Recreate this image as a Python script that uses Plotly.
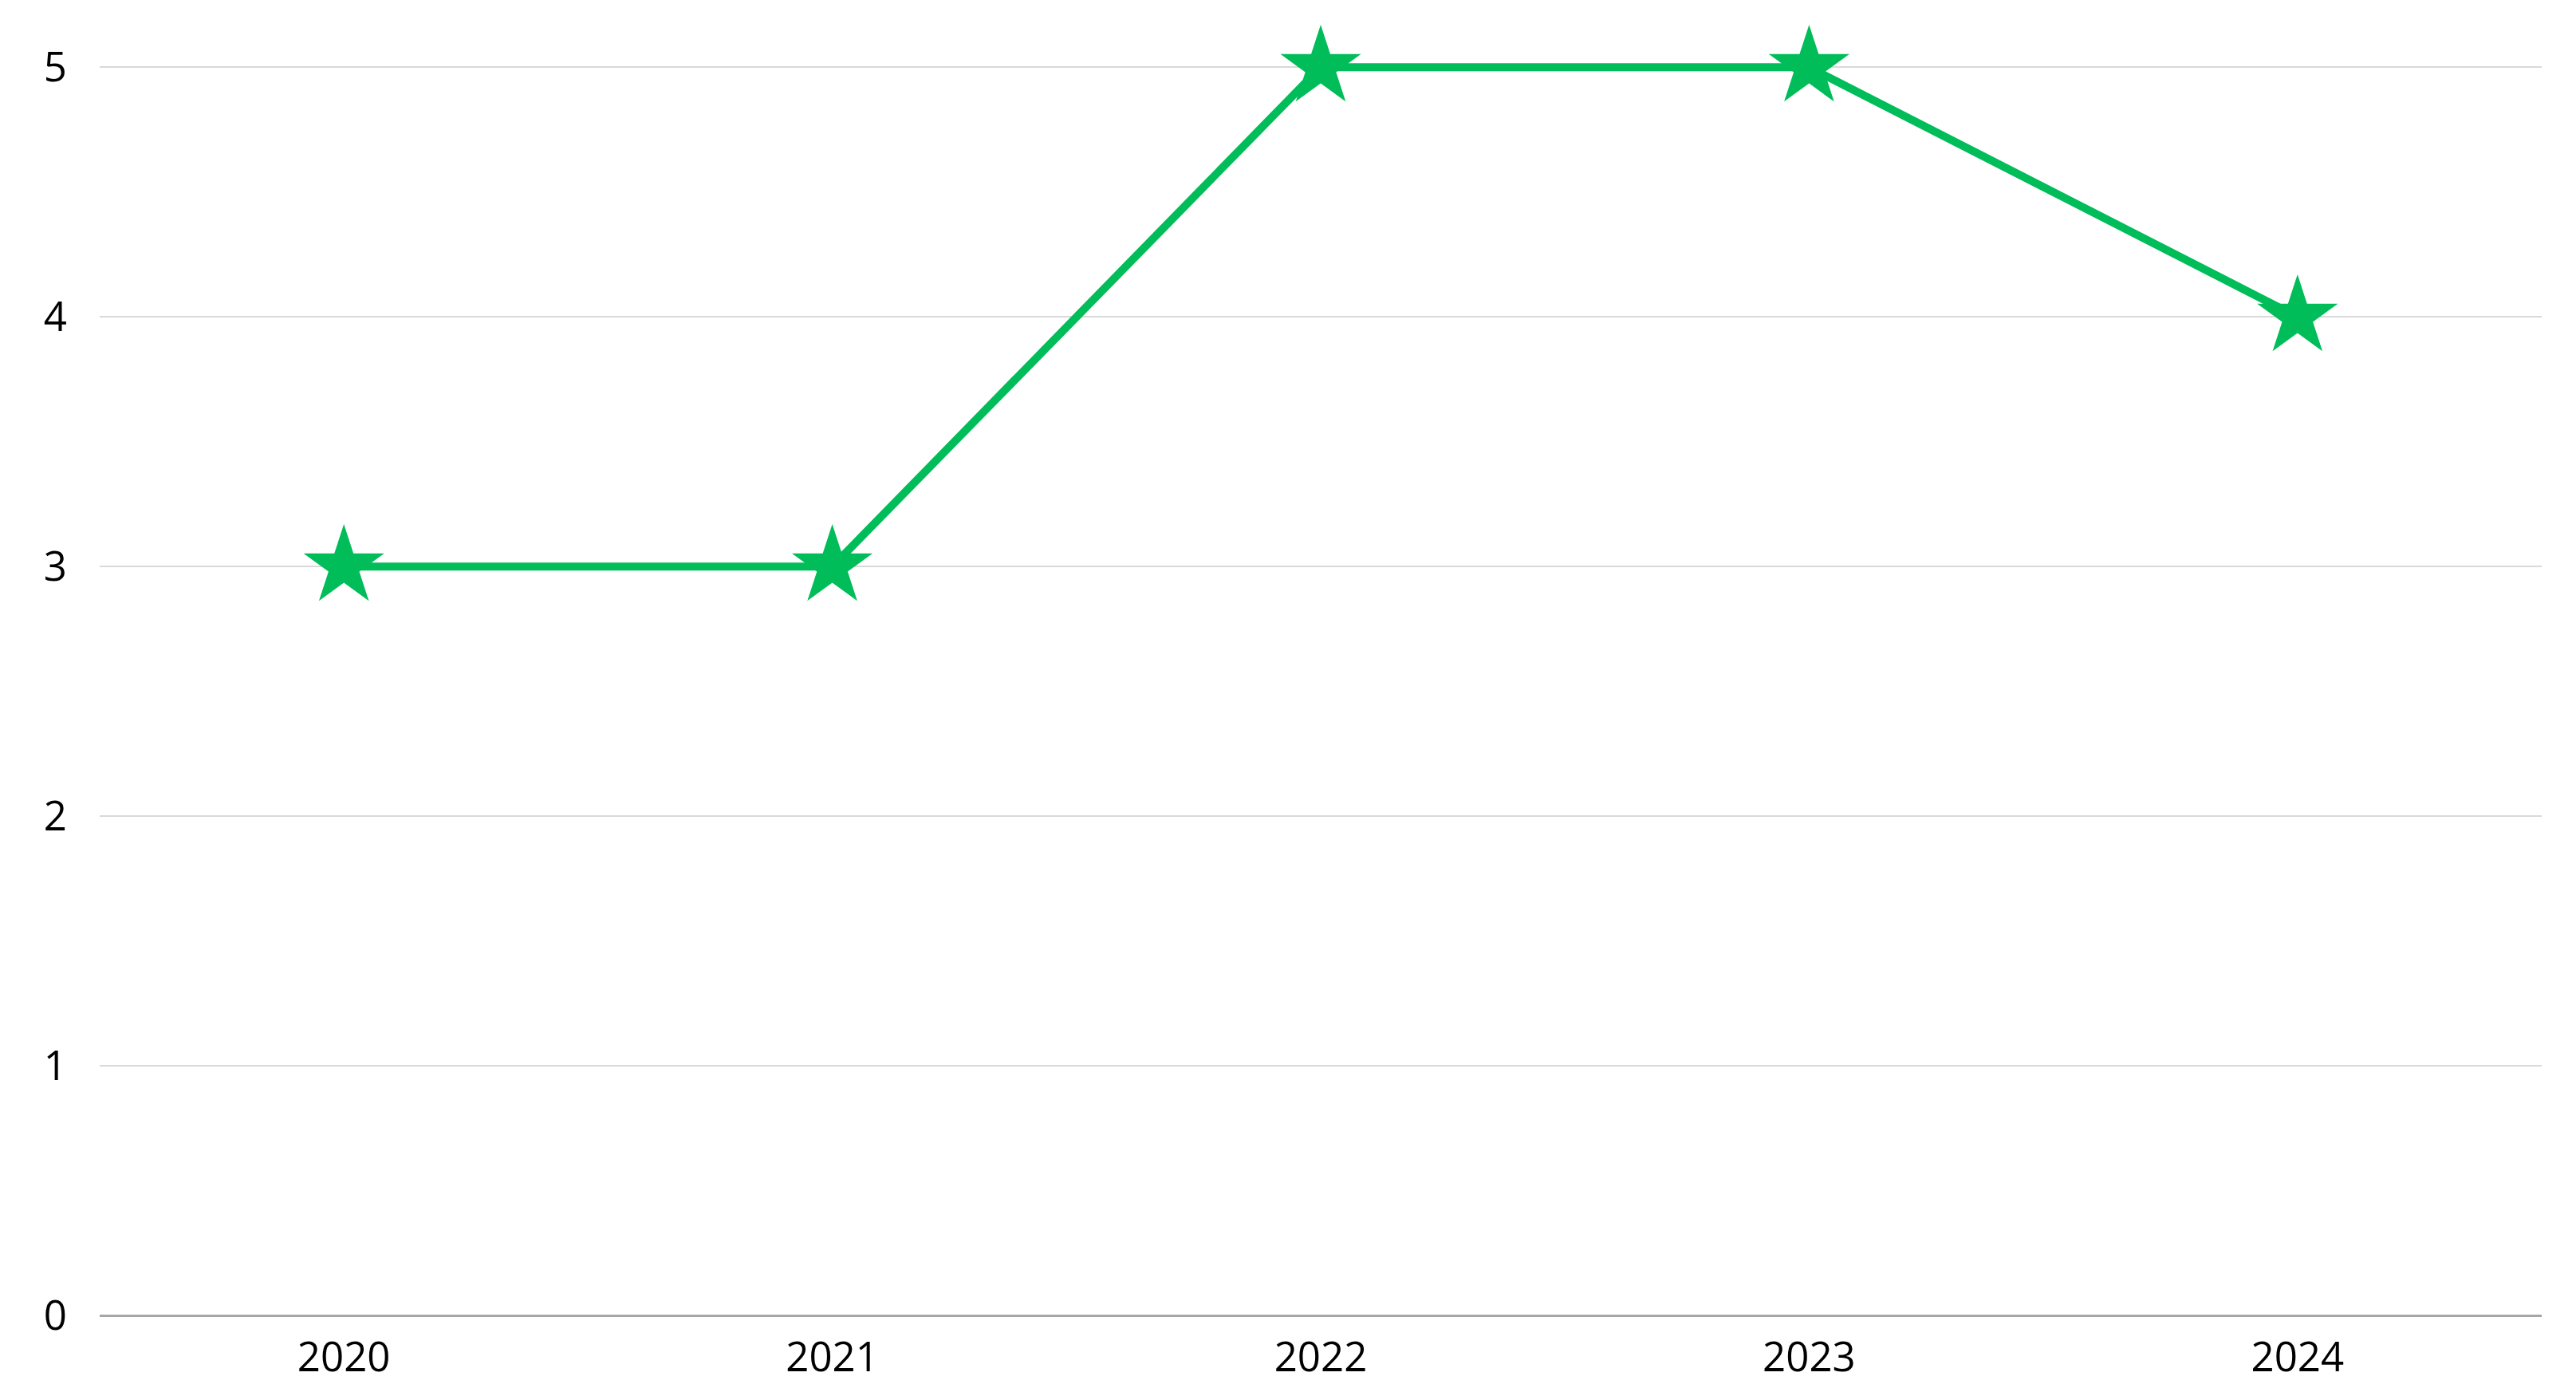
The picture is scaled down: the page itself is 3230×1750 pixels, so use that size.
import plotly.graph_objects as go

years = ["2020", "2021", "2022", "2023", "2024"]
values = [3, 3, 5, 5, 4]

green = "#00BD5A"

fig = go.Figure()
fig.add_trace(go.Scatter(
    x=years, y=values, mode="lines+markers",
    line=dict(color=green, width=10),
    marker=dict(symbol="star", size=76, color=green, line=dict(width=0)),
    cliponaxis=False, showlegend=False,
))

# the page body adds an 8px offset, so margins are shifted to compensate
fig.update_layout(
    width=3230, height=1750,
    margin=dict(l=117, r=51, t=45, b=109),
    paper_bgcolor="white", plot_bgcolor="white",
    font=dict(family="Open Sans", size=51, color="#000000"),
    xaxis=dict(
        type="category", range=[-0.5, 4.5],
        showgrid=False, showline=False, zeroline=False,
        ticks="", ticklabelstandoff=18,
    ),
    yaxis=dict(
        range=[0, 5.1], tickvals=[0, 1, 2, 3, 4, 5],
        showgrid=True, gridcolor="#D9D9D9", gridwidth=2,
        zeroline=True, zerolinecolor="#A6A6A6", zerolinewidth=3,
        showline=False, ticks="", ticklabelstandoff=40,
    ),
)

fig.write_html("out.html")
